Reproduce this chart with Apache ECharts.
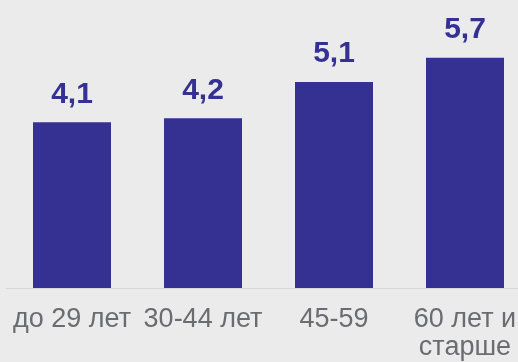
<!DOCTYPE html>
<html>
<head>
<meta charset="utf-8">
<script src="https://cdn.jsdelivr.net/npm/echarts@6/dist/echarts.min.js"></script>
<style>
html,body{margin:0;padding:0;background:#ebebeb;overflow:hidden;width:518px;height:362px;}
#chart{width:531px;height:362px;}
</style>
</head>
<body>
<div id="chart"></div>
<script>
var categories = ['до 29 лет', '30-44 лет', '45-59', '60 лет и\nстарше'];
var values = [4.1, 4.2, 5.1, 5.7];

var chart = echarts.init(document.getElementById('chart'), null, {renderer: 'canvas'});
chart.setOption({
  backgroundColor: '#ebebeb',
  animation: false,
  grid: {left: 6.5, right: 0.5, top: 8, bottom: 74},
  xAxis: {
    type: 'category',
    data: categories,
    axisLine: {lineStyle: {color: '#d6d6d6', width: 1}},
    axisTick: {show: false},
    axisLabel: {
      color: '#6b6c72',
      fontFamily: 'Liberation Sans, Arial, sans-serif',
      fontSize: 27,
      lineHeight: 28.5,
      margin: 17,
      interval: 0
    }
  },
  yAxis: {
    type: 'value',
    min: 0,
    max: 280 / 40.41,
    show: false,
    splitLine: {show: false}
  },
  series: [{
    type: 'bar',
    data: values,
    barWidth: 78,
    itemStyle: {color: '#353192'},
    label: {
      show: true,
      position: 'top',
      distance: 13,
      color: '#353192',
      fontFamily: 'Liberation Sans, Arial, sans-serif',
      fontWeight: 'bold',
      fontSize: 30,
      formatter: function (p) { return String(p.value).replace('.', ','); }
    }
  }]
});
</script>
</body>
</html>
